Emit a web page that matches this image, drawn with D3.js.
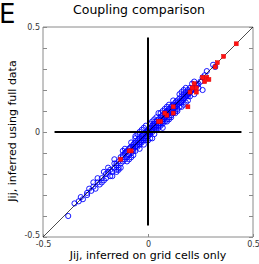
<!DOCTYPE html>
<meta charset="utf-8">
<style>
body { margin: 0; background: #fff; }
text { font-family: "DejaVu Sans", sans-serif; }
.axis path, .axis line { stroke: #8a8a8a; }
.axis text { fill: #333; font-size: 8px; }
</style>
<body>
<script src="https://cdn.jsdelivr.net/npm/d3@7"></script>
<script>

var width = 259,
    height = 264;

// x/y tick positions and labels
var xTicks = [-0.5, 0, 0.5];
var yTicks = [-0.5, -0.4, -0.3, -0.2, -0.1, 0, 0.1, 0.2, 0.3, 0.4, 0.5];
var labelled = [-0.5, 0, 0.5];

// blue: all couplings, [grid-only, full data]
var bluePoints = [
  [-0.38,-0.40],[-0.35,-0.34],[-0.33,-0.33],[-0.32,-0.31],[-0.31,-0.32],[-0.29,-0.30],[-0.29,-0.29],
  [-0.28,-0.27],[-0.26,-0.26],[-0.26,-0.24],[-0.25,-0.27],[-0.24,-0.24],[-0.23,-0.25],[-0.22,-0.22],
  [-0.21,-0.23],[-0.21,-0.19],[-0.20,-0.20],[-0.20,-0.22],[-0.19,-0.19],[-0.18,-0.21],[-0.18,-0.18],
  [-0.17,-0.19],[-0.16,-0.17],[-0.16,-0.15],[-0.15,-0.18],[-0.15,-0.16],[-0.15,-0.19],[-0.14,-0.14],
  [-0.14,-0.17],[-0.14,-0.18],[-0.13,-0.15],[-0.13,-0.12],[-0.12,-0.14],[-0.12,-0.11],[-0.11,-0.13],
  [-0.11,-0.10],[-0.10,-0.12],[-0.10,-0.09],[-0.10,-0.14],[-0.09,-0.11],[-0.09,-0.08],[-0.08,-0.10],
  [-0.08,-0.07],[-0.08,-0.12],[-0.07,-0.09],[-0.07,-0.06],[-0.07,-0.08],[-0.06,-0.07],[-0.06,-0.05],
  [-0.06,-0.09],[-0.06,-0.02],[-0.05,-0.06],[-0.05,-0.04],[-0.05,-0.07],[-0.05,-0.01],[-0.04,-0.05],
  [-0.04,-0.03],[-0.04,-0.06],[-0.04,0.00],[-0.03,-0.04],[-0.03,-0.02],[-0.03,-0.05],[-0.02,-0.03],
  [-0.02,-0.01],[-0.02,-0.04],[-0.01,-0.02],[-0.01,0.00],[-0.01,-0.03],[-0.01,0.03],[0.00,-0.01],
  [0.00,0.01],[0.00,-0.02],[0.00,0.00],[0.00,-0.04],[0.01,0.00],[0.01,0.02],[0.01,-0.01],[0.02,0.01],
  [0.02,0.03],[0.02,0.00],[0.02,-0.03],[0.03,0.02],[0.03,0.04],[0.03,0.01],[0.03,-0.01],[0.04,0.03],
  [0.04,0.05],[0.04,0.02],[0.04,0.01],[0.05,0.04],[0.05,0.06],[0.05,0.03],[0.05,0.09],[0.06,0.05],
  [0.06,0.07],[0.06,0.04],[0.07,0.06],[0.07,0.08],[0.07,0.05],[0.07,0.02],[0.08,0.07],[0.08,0.09],
  [0.08,0.05],[0.09,0.08],[0.09,0.10],[0.09,0.06],[0.09,0.12],[0.09,0.05],[0.10,0.09],[0.10,0.11],
  [0.10,0.07],[0.11,0.10],[0.11,0.12],[0.11,0.08],[0.12,0.11],[0.12,0.13],[0.12,0.09],[0.13,0.12],
  [0.13,0.14],[0.13,0.10],[0.14,0.13],[0.14,0.15],[0.14,0.11],[0.15,0.14],[0.15,0.16],[0.15,0.12],
  [0.16,0.15],[0.16,0.17],[0.16,0.14],[0.17,0.16],[0.17,0.18],[0.17,0.13],[0.18,0.17],[0.18,0.19],
  [0.19,0.18],[0.19,0.15],[0.19,0.17],[0.20,0.19],[0.20,0.21],[0.21,0.20],[0.22,0.21],[0.22,0.18],
  [0.23,0.22],[0.24,0.23],[0.25,0.24],[0.26,0.26],[0.26,0.20],[0.31,0.32],[0.32,0.31],
  [-0.015,-0.005],[0.005,0.015],[0.015,0.005],[-0.025,-0.015],[0.025,0.035],[0.035,0.025],
  [-0.035,-0.045],[-0.045,-0.035],[0.045,0.055],[0.055,0.045],[0.065,0.075],[-0.055,-0.065],
  [-0.065,-0.055],[0.075,0.065],[0.085,0.095],[-0.075,-0.085],[-0.085,-0.075],[0.105,0.095],
  [0.115,0.125],[0.125,0.115],[-0.095,-0.105],[-0.105,-0.095],[0.135,0.145],[0.145,0.135],
  [0.03,0.06],[0.06,0.03],[0.08,0.11],[0.11,0.07],[0.12,0.15],[0.14,0.10],[0.16,0.12],[0.15,0.18],
  [0.18,0.14],[0.17,0.20],[0.10,0.13],[0.13,0.09],[0.07,0.10],[0.10,0.06],[0.02,0.05],[0.05,0.02],
  [-0.02,0.02],[0.01,-0.03],[-0.03,0.01],[-0.02,-0.06],[-0.06,-0.03],[-0.04,-0.08],[-0.08,-0.05],
  [-0.07,-0.11],[-0.11,-0.08],[-0.09,-0.13],[-0.12,-0.09],[-0.13,-0.17],[-0.16,-0.13],[-0.17,-0.21],
  [-0.19,-0.17],[-0.22,-0.24],[-0.24,-0.22],[-0.27,-0.28],[0.115,0.105],[0.095,0.085],[0.085,0.075],
  [0.135,0.125],[0.155,0.145],[0.165,0.155],[0.185,0.175],[0.195,0.185],[0.205,0.195],[0.215,0.205],
  [0.225,0.215],[0.235,0.225],[0.175,0.165],[0.04,0.07],[0.07,0.04],[0.01,0.04],[0.06,0.09],
  [0.09,0.09],[0.03,0.03],[-0.03,-0.03],[-0.07,-0.07],[-0.12,-0.12],[-0.15,-0.15],[0.20,0.17],
  [0.21,0.23],[0.24,0.21],[0.18,0.21],[0.16,0.19],[0.19,0.20],[0.22,0.24],[0.27,0.27],[0.28,0.29]
];

// red: grid-cell couplings
var redPoints = [
  [0.42,0.42],[0.36,0.36],[0.33,0.33],[0.32,0.31],[0.28,0.26],[0.26,0.26],[0.29,0.25],[0.27,0.24],
  [0.23,0.21],[0.22,0.23],[0.21,0.21],[0.20,0.19],[0.23,0.19],[0.19,0.12],[0.12,0.12],[0.12,0.09],
  [0.09,0.08],[0.08,0.09],[0.06,0.05],[0.05,0.05],[-0.08,-0.09],[-0.09,-0.09],[-0.13,-0.13]
];

var x = d3.scaleLinear().domain([-0.5, 0.5]).range([43, 253]);
var y = d3.scaleLinear().domain([-0.5, 0.5]).range([237, 27]);

var fmt = function(d) {
  if (labelled.indexOf(d) < 0) return "";
  return d === 0 ? "0" : String(d).replace("\u2212", "-");
};

var svg = d3.select("body").append("svg")
    .attr("width", width)
    .attr("height", height);

// frame + axes
svg.append("g")
    .attr("class", "axis")
    .attr("transform", "translate(43,0)")
    .call(d3.axisLeft(y).tickValues(yTicks).tickSize(-4).tickPadding(3).tickFormat(fmt))
    .call(function(g) { g.select(".domain").attr("d", "M0,27V237"); })
    .call(function(g) { g.selectAll("text").filter(function(d) { return d === -0.5; }).attr("dy", "0.1em"); });

svg.append("g")
    .attr("class", "axis")
    .attr("transform", "translate(253,0)")
    .call(d3.axisRight(y).tickValues(yTicks).tickSize(-4).tickFormat(""))
    .call(function(g) { g.select(".domain").attr("d", "M0,27V237"); });

svg.append("g")
    .attr("class", "axis")
    .attr("transform", "translate(0,237)")
    .call(d3.axisBottom(x).tickValues(xTicks).tickSize(-3).tickPadding(4).tickFormat(fmt))
    .call(function(g) { g.select(".domain").attr("d", "M43,0H253"); });

svg.append("line")
    .attr("x1", 43).attr("x2", 253).attr("y1", 27).attr("y2", 27)
    .attr("stroke", "#8a8a8a");

// blue circles
svg.append("g")
  .selectAll("circle")
    .data(bluePoints)
  .enter().append("circle")
    .attr("cx", function(d) { return x(d[0]); })
    .attr("cy", function(d) { return y(d[1]); })
    .attr("r", 2.6)
    .attr("fill", "none")
    .attr("stroke", "#0000ff")
    .attr("stroke-width", 0.9);

// identity line
svg.append("line")
    .attr("x1", x(-0.5)).attr("y1", y(-0.5))
    .attr("x2", x(0.5)).attr("y2", y(0.5))
    .attr("stroke", "#000")
    .attr("stroke-width", 0.7);

// cross at origin
svg.append("line")
    .attr("x1", x(-0.445)).attr("x2", x(0.445))
    .attr("y1", y(0)).attr("y2", y(0))
    .attr("stroke", "#000").attr("stroke-width", 2);

svg.append("line")
    .attr("x1", x(0)).attr("x2", x(0))
    .attr("y1", y(0.45)).attr("y2", y(-0.445))
    .attr("stroke", "#000").attr("stroke-width", 2);

// red dots
svg.append("g")
  .selectAll("rect")
    .data(redPoints)
  .enter().append("rect")
    .attr("x", function(d) { return x(d[0]) - 2; })
    .attr("y", function(d) { return y(d[1]) - 2; })
    .attr("width", 4)
    .attr("height", 4)
    .attr("fill", "#ff1010")
    .attr("stroke", "#e00000")
    .attr("stroke-width", 0.5);

// labels
svg.append("text")
    .attr("x", -1).attr("y", 23)
    .style("font-size", "26px")
    .text("E");

svg.append("text")
    .attr("x", 139).attr("y", 14)
    .attr("text-anchor", "middle")
    .style("font-size", "12.5px")
    .text("Coupling comparison");

svg.append("text")
    .attr("x", 148).attr("y", 259)
    .attr("text-anchor", "middle")
    .style("font-size", "11px")
    .text("Jij, inferred on grid cells only");

svg.append("text")
    .attr("transform", "translate(16,131)rotate(-90)")
    .attr("text-anchor", "middle")
    .style("font-size", "11px")
    .text("Jij, inferred using full data");

</script>
